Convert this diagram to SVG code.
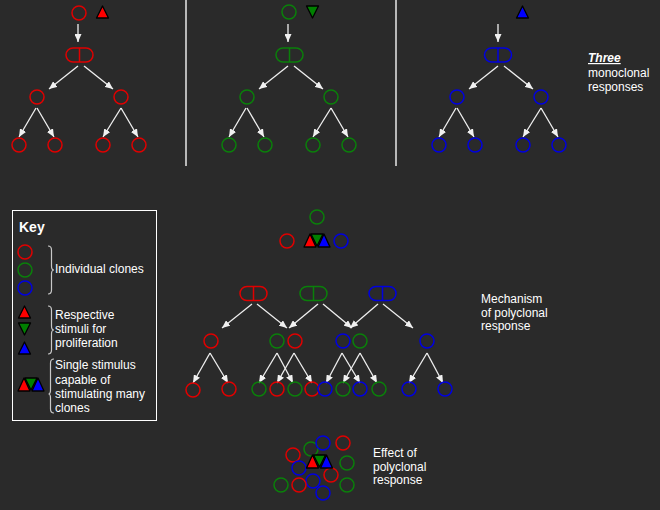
<svg xmlns="http://www.w3.org/2000/svg" xmlns:xlink="http://www.w3.org/1999/xlink" width="660" height="510" viewBox="0 0 660 510">
<style>
text{font-family:"Liberation Sans",Arial,sans-serif;font-size:12px;fill:#ffffff}
.r{fill:none;stroke:#e00000;stroke-width:1.5}
.g{fill:none;stroke:#0a800a;stroke-width:1.5}
.b{fill:none;stroke:#0000e0;stroke-width:1.5}
.tr{fill:#ff0000;stroke:#000;stroke-width:1.3;stroke-linejoin:round}
.tg{fill:#008000;stroke:#000;stroke-width:1.3;stroke-linejoin:round}
.tb{fill:#0000ff;stroke:#000;stroke-width:1.3;stroke-linejoin:round}
.a{stroke:#f0f0f0;stroke-width:1.3;fill:none;marker-end:url(#ah)}
.sep{stroke:#b8b8b8;stroke-width:2}
.br{fill:none;stroke:#c8c8c8;stroke-width:1.2}
</style>
<defs>
<marker id="ah" markerWidth="8" markerHeight="7" refX="8" refY="3.5" orient="auto" markerUnits="userSpaceOnUse">
<path d="M0,0 L8,3.5 L0,7 z" fill="#f0f0f0"/>
</marker>
<g id="combo">
<polygon class="tr" points="0,13 6,0 12,13"/>
<polygon class="tb" points="14,13 20,0 26,13"/>
<polygon class="tg" points="7,0 19,0 13,12"/>
</g>
<g id="pillr"><rect class="r" x="-13.5" y="-7" width="27" height="14" rx="7"/><line class="r" x1="0" y1="-7" x2="0" y2="7"/></g>
<g id="pillg"><rect class="g" x="-13.5" y="-7" width="27" height="14" rx="7"/><line class="g" x1="0" y1="-7" x2="0" y2="7"/></g>
<g id="pillb"><rect class="b" x="-13.5" y="-7" width="27" height="14" rx="7"/><line class="b" x1="0" y1="-7" x2="0" y2="7"/></g>
</defs>
<rect width="660" height="510" fill="#2a2a2a"/>

<g id="separators">
<line class="sep" x1="186" y1="0" x2="186" y2="166"/>
<line class="sep" x1="396" y1="0" x2="396" y2="166"/>
</g>

<g id="connectors">
<!-- panel 1 -->
<g id="conn-p1">
<line class="a" x1="78" y1="24" x2="78" y2="42"/>
<line class="a" x1="78" y1="66" x2="49" y2="89"/>
<line class="a" x1="84" y1="66" x2="113" y2="89"/>
<line class="a" x1="36" y1="108" x2="19" y2="137"/>
<line class="a" x1="37" y1="108" x2="54" y2="137"/>
<line class="a" x1="121" y1="108" x2="103" y2="137"/>
<line class="a" x1="121" y1="108" x2="138" y2="137"/>
</g>
<use xlink:href="#conn-p1" href="#conn-p1" transform="translate(210,0)"/>
<use xlink:href="#conn-p1" href="#conn-p1" transform="translate(420,0)"/>
<!-- polyclonal -->
<line class="a" x1="252" y1="304" x2="222" y2="328"/>
<line class="a" x1="257" y1="304" x2="287" y2="328"/>
<line class="a" x1="318" y1="304" x2="289" y2="328"/>
<line class="a" x1="323" y1="304" x2="352" y2="328"/>
<line class="a" x1="378" y1="304" x2="350" y2="328"/>
<line class="a" x1="383" y1="304" x2="413" y2="328"/>
<line class="a" x1="210" y1="353" x2="193" y2="383"/>
<line class="a" x1="210" y1="353" x2="228" y2="383"/>
<line class="a" x1="277" y1="353" x2="259" y2="383"/>
<line class="a" x1="277" y1="353" x2="293" y2="383"/>
<line class="a" x1="294" y1="353" x2="277" y2="383"/>
<line class="a" x1="294" y1="353" x2="312" y2="383"/>
<line class="a" x1="342" y1="353" x2="326" y2="383"/>
<line class="a" x1="342" y1="353" x2="360" y2="383"/>
<line class="a" x1="360" y1="353" x2="343" y2="383"/>
<line class="a" x1="360" y1="353" x2="377" y2="383"/>
<line class="a" x1="427" y1="353" x2="409" y2="383"/>
<line class="a" x1="427" y1="353" x2="443" y2="383"/>
</g>

<!-- Panel 1 (red) -->
<g id="p1-cell"><circle class="r" cx="79" cy="13" r="7"/></g>
<g id="p1-stim"><polygon class="tr" points="96.5,18 102.5,6 108.5,18"/></g>
<g id="p1-div"><use xlink:href="#pillr" href="#pillr" x="79.5" y="55"/></g>
<g id="p1-d1"><circle class="r" cx="37" cy="97" r="7"/></g>
<g id="p1-d2"><circle class="r" cx="121" cy="97" r="7"/></g>
<g id="p1-e1"><circle class="r" cx="19" cy="145" r="7"/></g>
<g id="p1-e2"><circle class="r" cx="55" cy="145" r="7"/></g>
<g id="p1-e3"><circle class="r" cx="103" cy="145" r="7"/></g>
<g id="p1-e4"><circle class="r" cx="139" cy="145" r="7"/></g>

<!-- Panel 2 (green) -->
<g id="p2-cell"><circle class="g" cx="289" cy="12" r="7"/></g>
<g id="p2-stim"><polygon class="tg" points="306.5,6 318.5,6 312.5,18"/></g>
<g id="p2-div"><use xlink:href="#pillg" href="#pillg" x="289.5" y="55"/></g>
<g id="p2-d1"><circle class="g" cx="247" cy="97" r="7"/></g>
<g id="p2-d2"><circle class="g" cx="331" cy="97" r="7"/></g>
<g id="p2-e1"><circle class="g" cx="229" cy="145" r="7"/></g>
<g id="p2-e2"><circle class="g" cx="265" cy="145" r="7"/></g>
<g id="p2-e3"><circle class="g" cx="313" cy="145" r="7"/></g>
<g id="p2-e4"><circle class="g" cx="349" cy="145" r="7"/></g>

<!-- Panel 3 (blue) -->
<g id="p3-stim"><polygon class="tb" points="516.5,18 522.5,6 528.5,18"/></g>
<g id="p3-div"><use xlink:href="#pillb" href="#pillb" x="498" y="55"/></g>
<g id="p3-d1"><circle class="b" cx="457" cy="97" r="7"/></g>
<g id="p3-d2"><circle class="b" cx="541" cy="97" r="7"/></g>
<g id="p3-e1"><circle class="b" cx="439" cy="145" r="7"/></g>
<g id="p3-e2"><circle class="b" cx="475" cy="145" r="7"/></g>
<g id="p3-e3"><circle class="b" cx="523" cy="145" r="7"/></g>
<g id="p3-e4"><circle class="b" cx="559" cy="145" r="7"/></g>

<g id="label-mono">
<text x="588" y="62" font-weight="bold" font-style="italic" text-decoration="underline">Three</text>
<text x="588" y="77">monoclonal</text>
<text x="588" y="91">responses</text>
</g>

<!-- Key -->
<g id="key">
<rect x="12.5" y="210.5" width="144" height="210" fill="none" stroke="#ffffff" stroke-width="1"/>
<text x="19" y="232" font-weight="bold" font-size="14" style="font-size:14px">Key</text>
<circle class="r" cx="25" cy="252" r="7"/>
<circle class="g" cx="25" cy="270" r="7"/>
<circle class="b" cx="25" cy="288" r="7"/>
<path class="br" d="M48,246 Q51.5,246 51.5,250 L51.5,266 Q51.5,270 54,270 Q51.5,270 51.5,274 L51.5,290 Q51.5,294 48,294"/>
<text x="55" y="273">Individual clones</text>
<polygon class="tr" points="18.5,318 24.5,306 30.5,318"/>
<polygon class="tg" points="18.5,323 30.5,323 24.5,335"/>
<polygon class="tb" points="18.5,354 24.5,342 30.5,354"/>
<path class="br" d="M48,306 Q51.5,306 51.5,310 L51.5,326 Q51.5,330 54,330 Q51.5,330 51.5,334 L51.5,350 Q51.5,354 48,354"/>
<text x="55" y="319">Respective</text>
<text x="55" y="333">stimuli for</text>
<text x="55" y="347">proliferation</text>
<use xlink:href="#combo" href="#combo" transform="translate(18,378)"/>
<path class="br" d="M54,359 Q50.5,359 50.5,363 L50.5,390 Q50.5,394 48.5,394 Q50.5,394 50.5,398 L50.5,409 Q50.5,413 54,413"/>
<text x="55" y="369">Single stimulus</text>
<text x="55" y="384">capable of</text>
<text x="55" y="398">stimulating many</text>
<text x="55" y="412">clones</text>
</g>

<!-- Polyclonal mechanism -->
<g id="m-cg"><circle class="g" cx="317" cy="217" r="7"/></g>
<g id="m-cr"><circle class="r" cx="287" cy="241" r="7"/></g>
<g id="m-cb"><circle class="b" cx="341" cy="241" r="7"/></g>
<g id="m-stim"><use xlink:href="#combo" href="#combo" transform="translate(304,234)"/></g>
<g id="m-pr"><use xlink:href="#pillr" href="#pillr" x="253.5" y="293.5"/></g>
<g id="m-pg"><use xlink:href="#pillg" href="#pillg" x="313.5" y="293.5"/></g>
<g id="m-pb"><use xlink:href="#pillb" href="#pillb" x="382.5" y="293.5"/></g>
<g id="m-d1"><circle class="r" cx="211" cy="341" r="7"/></g>
<g id="m-d2"><circle class="g" cx="277" cy="341" r="7"/></g>
<g id="m-d3"><circle class="r" cx="295" cy="341" r="7"/></g>
<g id="m-d4"><circle class="b" cx="343" cy="341" r="7"/></g>
<g id="m-d5"><circle class="g" cx="360" cy="341" r="7"/></g>
<g id="m-d6"><circle class="b" cx="427" cy="341" r="7"/></g>
<g id="m-e1"><circle class="r" cx="193" cy="390" r="7"/></g>
<g id="m-e2"><circle class="r" cx="229" cy="389" r="7"/></g>
<g id="m-e3"><circle class="g" cx="259" cy="389" r="7"/></g>
<g id="m-e4"><circle class="r" cx="277" cy="389" r="7"/></g>
<g id="m-e5"><circle class="g" cx="295" cy="389" r="7"/></g>
<g id="m-e6"><circle class="r" cx="312" cy="389" r="7"/></g>
<g id="m-e7"><circle class="b" cx="325" cy="389" r="7"/></g>
<g id="m-e8"><circle class="g" cx="343" cy="389" r="7"/></g>
<g id="m-e9"><circle class="b" cx="360" cy="389" r="7"/></g>
<g id="m-e10"><circle class="g" cx="379" cy="389" r="7"/></g>
<g id="m-e11"><circle class="b" cx="409" cy="389" r="7"/></g>
<g id="m-e12"><circle class="b" cx="445" cy="389" r="7"/></g>
<g id="label-mech">
<text x="481" y="303">Mechanism</text>
<text x="481" y="317">of polyclonal</text>
<text x="481" y="330">response</text>
</g>

<!-- Effect -->
<g id="effect">
<circle class="g" cx="311" cy="449" r="7"/>
<circle class="b" cx="323" cy="443" r="7"/>
<circle class="r" cx="343" cy="443" r="7"/>
<circle class="r" cx="293" cy="455" r="7"/>
<circle class="g" cx="347" cy="463" r="7"/>
<circle class="b" cx="299" cy="468" r="7"/>
<circle class="r" cx="331" cy="475" r="7"/>
<circle class="b" cx="313" cy="481" r="7"/>
<circle class="g" cx="281" cy="485" r="7"/>
<circle class="r" cx="299" cy="485" r="7"/>
<circle class="g" cx="347" cy="485" r="7"/>
<circle class="b" cx="323" cy="493" r="7"/>
<use xlink:href="#combo" href="#combo" transform="translate(306.5,455)"/>
</g>
<g id="label-effect">
<text x="373" y="457">Effect of</text>
<text x="373" y="471">polyclonal</text>
<text x="373" y="484">response</text>
</g>
</svg>
